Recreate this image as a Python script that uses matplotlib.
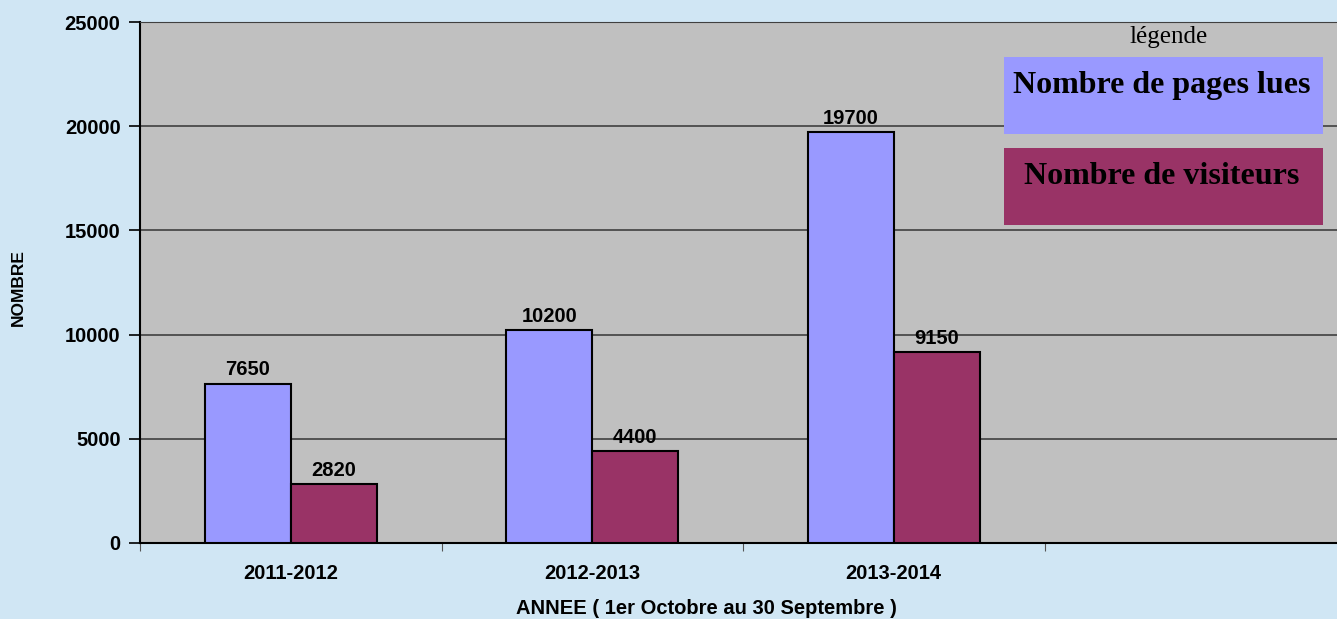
import matplotlib
matplotlib.use("Agg")
import matplotlib.pyplot as plt
from matplotlib.patches import Rectangle

years = ["2011-2012", "2012-2013", "2013-2014"]
pages = [7650, 10200, 19700]
visitors = [2820, 4400, 9150]
series_names = ["Nombre de pages lues", "Nombre de visiteurs"]
colors = ["#9999FF", "#993366"]

W, H = 1337, 619
bg = "#D0E6F4"


def fx(px):
    return px / W


def fy(py):
    return 1 - py / H


plt.rcParams['font.family'] = ['Liberation Sans', 'DejaVu Sans']

fig = plt.figure(figsize=(W / 100, H / 100), dpi=100, facecolor=bg)
ax = fig.add_axes([fx(140), fy(543), fx(1346) - fx(140), fy(22) - fy(543)])
ax.set_facecolor("#C0C0C0")

w = 0.285
x = list(range(len(years)))
b1 = ax.bar([i - w / 2 for i in x], pages, width=w, color=colors[0],
            edgecolor="black", linewidth=1.5, zorder=3)
b2 = ax.bar([i + w / 2 for i in x], visitors, width=w, color=colors[1],
            edgecolor="black", linewidth=1.5, zorder=3)
for bars in (b1, b2):
    ax.bar_label(bars, padding=3, fontsize=14.5, fontweight="bold")

ax.set_xlim(-0.5, 3.5)
ax.set_ylim(0, 25000)
ax.set_yticks(range(0, 25001, 5000))
ax.yaxis.grid(True, color="#404040", linewidth=1.2, zorder=0)
ax.set_axisbelow(True)

# category boundaries as ticks, names on minor ticks at centres
ax.set_xticks([-0.5, 0.5, 1.5, 2.5, 3.5])
ax.set_xticklabels([])
ax.set_xticks(x, minor=True)
ax.set_xticklabels(years, minor=True, fontsize=14.5, fontweight="bold")
ax.tick_params(axis="x", which="major", length=6, color="#555555", direction="out")
ax.tick_params(axis="x", which="minor", length=0, pad=15)
ax.tick_params(axis="y", length=8, width=1.2, color="black", pad=6,
               labelsize=14.5)
for lab in ax.get_yticklabels():
    lab.set_fontweight("bold")

for s in ("left", "bottom"):
    ax.spines[s].set_linewidth(1.5)
    ax.spines[s].set_color("black")
ax.spines["top"].set_color("#404040")
ax.spines["right"].set_visible(False)

fig.text(fx(706), fy(609), "ANNEE ( 1er Octobre au 30 Septembre )",
         ha="center", va="center", fontsize=14.5, fontweight="bold")
fig.text(fx(18), fy(288), "NOMBRE", rotation=90, ha="center", va="center",
         fontsize=12.5, fontweight="bold")

# legend drawn as boxes
fig.text(fx(1169), fy(37), "légende", ha="center", va="center",
         fontsize=18, family=["Liberation Serif", "DejaVu Serif"])
boxes = [(57, 134, 86), (148, 225, 177)]
for (top, bot, ty), name, c in zip(boxes, series_names, colors):
    fig.add_artist(Rectangle((fx(1004), fy(bot)), fx(1323) - fx(1004),
                             fy(top) - fy(bot), transform=fig.transFigure,
                             facecolor=c, edgecolor="none", zorder=5))
    fig.text(fx(1162), fy(ty), name, ha="center", va="center", fontsize=23,
             fontweight="bold", family=["Liberation Serif", "DejaVu Serif"],
             zorder=6)

fig.savefig("out.png", dpi=100, facecolor=bg)
